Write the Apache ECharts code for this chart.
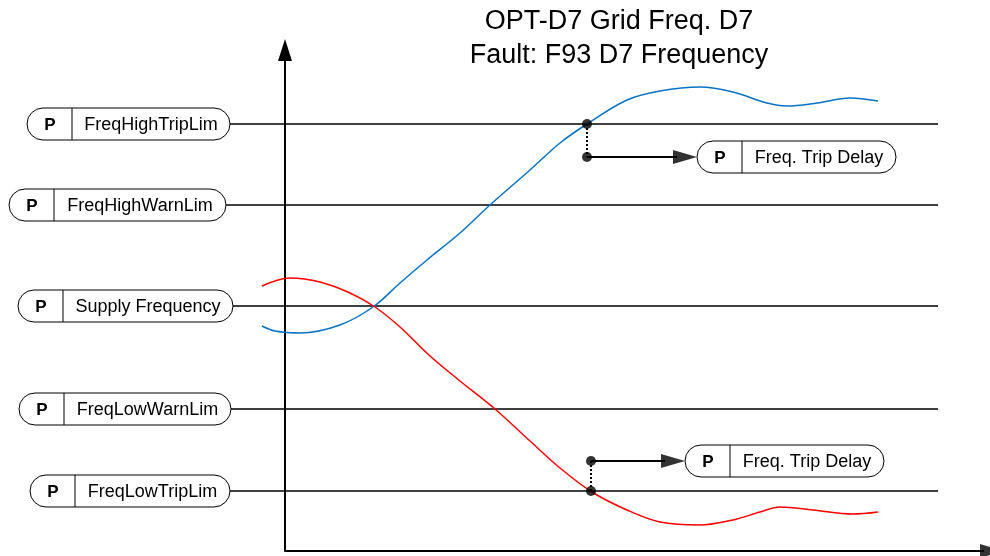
<!DOCTYPE html>
<html>
<head>
<meta charset="utf-8">
<script src="https://cdn.jsdelivr.net/npm/echarts@6/dist/echarts.min.js"></script>
<style>
  * { margin: 0; padding: 0; }
  #main { width: 990px; height: 556px; }
</style>
</head>
<body>
<div id="main"></div>
<script>
// limit lines (y in drawing units, 0 = time axis, x = 0 at the vertical axis)
var levelNames = ['FreqHighTripLim', 'FreqHighWarnLim', 'Supply Frequency', 'FreqLowWarnLim', 'FreqLowTripLim'];
var levelValues = [427, 346, 245, 142, 60];
var levelStartX = [-55, -59, -52, -54, -55];
var levelEndX = 653;

// measured frequency curves
var highFreq = [[-23, 225], [-10, 220], [15, 218], [55, 226], [88, 244], [115, 268], [142, 291], [175, 318],
  [205, 346], [245, 381], [275, 408], [302, 427], [342, 451], [375, 460], [415, 464], [448, 459],
  [482, 448], [502, 445], [532, 448], [565, 453], [593, 450]];
var lowFreq = [[-23, 265], [5, 273], [35, 269], [65, 258], [90, 244], [115, 224], [145, 195], [175, 170],
  [210, 142], [245, 110], [275, 83], [307, 59], [342, 41], [375, 29], [415, 26], [448, 31],
  [475, 39], [495, 44], [528, 41], [568, 37], [593, 39]];

// trip delay markers
var tripNames = ['Freq. Trip Delay', 'Freq. Trip Delay'];
var tripCrossX = [302, 306];
var tripLevelY = [427, 60];
var tripDelayY = [394, 90];
var tripBoxX = [412, 400];

var xMin = -285, xMax = 705, yMax = 501;
var font = '"Liberation Sans", Arial, sans-serif';
var chart = echarts.init(document.getElementById('main'));

var series = [];
levelValues.forEach(function (v, i) {
  series.push({
    type: 'line', silent: true, symbol: 'none', z: 1,
    lineStyle: { color: '#000', width: 1.5 },
    data: [[levelStartX[i], v], [levelEndX, v]]
  });
});
// time axis with arrow
series.push({
  type: 'line', silent: true, symbol: 'none', z: 2,
  lineStyle: { color: '#000', width: 2 },
  data: [[0, 0], [xMax - 6, 0]]
});
series.push({
  type: 'line', smooth: 0.35, symbol: 'none', silent: true, z: 3,
  lineStyle: { color: '#0a72c4', width: 1.5 }, data: highFreq
});
series.push({
  type: 'line', smooth: 0.35, symbol: 'none', silent: true, z: 3,
  lineStyle: { color: '#ff0000', width: 1.5 }, data: lowFreq
});
var dots = [];
var heads = [[xMax + 2, 0]];
tripCrossX.forEach(function (x, i) {
  series.push({
    type: 'line', symbol: 'none', silent: true, z: 4,
    lineStyle: { color: '#000', width: 2, type: [2, 2] },
    data: [[x, tripLevelY[i]], [x, tripDelayY[i]]]
  });
  series.push({
    type: 'line', symbol: 'none', silent: true, z: 4,
    lineStyle: { color: '#000', width: 2 },
    data: [[x, tripDelayY[i]], [tripBoxX[i] - 20, tripDelayY[i]]]
  });
  dots.push([x, tripLevelY[i]], [x, tripDelayY[i]]);
  heads.push([tripBoxX[i] - 12, tripDelayY[i]]);
});
series.push({
  type: 'scatter', silent: true, z: 5, symbol: 'circle', symbolSize: 10,
  itemStyle: { color: '#000' }, data: dots
});
series.push({
  type: 'scatter', silent: true, z: 5, clip: false, symbol: 'triangle', symbolSize: [14, 24], symbolRotate: -90,
  itemStyle: { color: '#000' }, data: heads
});

chart.setOption({
  animation: false,
  backgroundColor: '#fff',
  title: {
    text: 'OPT-D7 Grid Freq. D7\nFault: F93 D7 Frequency',
    left: 619, top: 5, padding: 0, textAlign: 'center',
    textStyle: { fontFamily: font, fontSize: 27, fontWeight: 'normal', color: '#000', lineHeight: 34 }
  },
  grid: { left: 0, right: 0, top: 50, bottom: 5 },
  xAxis: {
    type: 'value', min: xMin, max: xMax,
    axisLine: { show: false }, axisTick: { show: false }, axisLabel: { show: false }, splitLine: { show: false }
  },
  yAxis: {
    type: 'value', min: 0, max: yMax,
    axisLine: { show: true, onZero: true, symbol: ['none', 'triangle'], symbolSize: [14, 22],
      lineStyle: { color: '#000', width: 2 } },
    axisTick: { show: false }, axisLabel: { show: false }, splitLine: { show: false }
  },
  series: series
});

function box(right, cy, w, label) {
  var h = 32, left = right - w;
  return {
    type: 'group', z: 100,
    children: [
      { type: 'rect', shape: { x: left, y: cy - h / 2, width: w, height: h, r: h / 2 },
        style: { fill: '#fff', stroke: '#000', lineWidth: 1 } },
      { type: 'line', shape: { x1: left + 45, y1: cy - h / 2, x2: left + 45, y2: cy + h / 2 },
        style: { stroke: '#000', lineWidth: 1 } },
      { type: 'text', style: { text: 'P', x: left + 23, y: cy + 1, align: 'center', verticalAlign: 'middle',
        font: 'bold 17px ' + font, fill: '#000' } },
      { type: 'text', style: { text: label, x: left + 45 + (w - 45) / 2, y: cy + 1, align: 'center',
        verticalAlign: 'middle', font: '18px ' + font, fill: '#000' } }
    ]
  };
}

var boxWidths = [203, 217, 215, 212, 200];
var graphics = [];
levelValues.forEach(function (v, i) {
  var p = chart.convertToPixel({ gridIndex: 0 }, [levelStartX[i], v]);
  graphics.push(box(p[0], p[1], boxWidths[i], levelNames[i]));
});
tripBoxX.forEach(function (x, i) {
  var p = chart.convertToPixel({ gridIndex: 0 }, [x, tripDelayY[i]]);
  graphics.push(box(p[0] + 199, p[1], 199, tripNames[i]));
});
chart.setOption({ graphic: graphics });
</script>
</body>
</html>
